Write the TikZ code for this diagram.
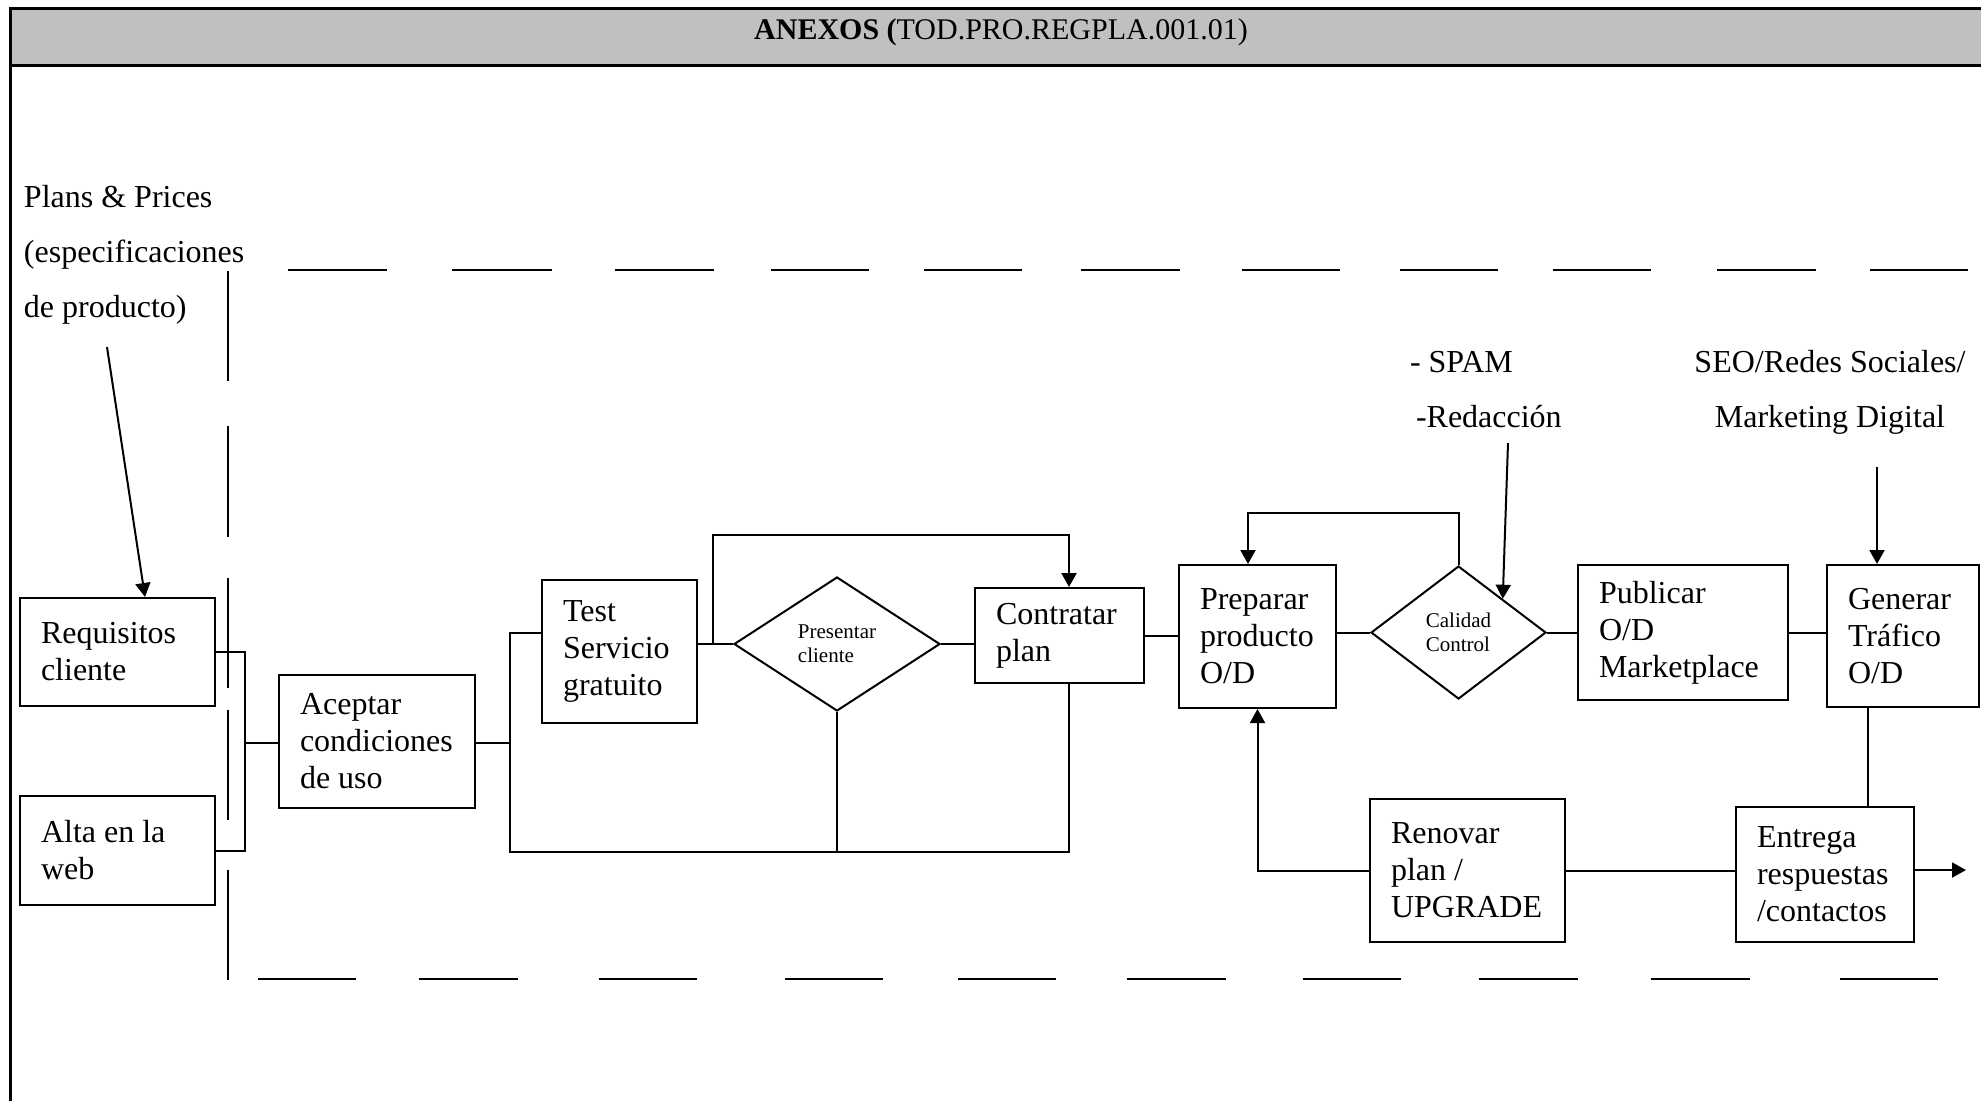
\documentclass[tikz,border=0pt]{standalone}
\usepackage{fontspec}
\setmainfont{Liberation Serif}
\usetikzlibrary{arrows.meta,shapes.geometric,calc}
\definecolor{hdr}{RGB}{192,192,192}
\begin{document}
\begin{tikzpicture}[x=0.5pt,y=-0.5pt,
  line width=1pt,
  every node/.style={font=\fontsize{16pt}{18.5pt}\selectfont},
  box/.style={draw, rectangle, inner xsep=10.5pt, inner ysep=0pt, align=flush left, anchor=center},
  dmd/.style={draw, diamond, inner sep=0pt, align=left,
    font=\fontsize{10.5pt}{12pt}\selectfont},
  arr/.style={-{Triangle[length=7pt,width=7.5pt]}},
  frame/.style={line width=1.5pt},
  wide/.style={font=\fontsize{16pt}{27.5pt}\selectfont, inner sep=0pt}
]
\useasboundingbox (0,0) rectangle (1981,1100);
\clip (0,0) rectangle (1981,1100);

% header band and outer frame
\fill[hdr] (10,8.5) rectangle (1995,65.5);
\draw[frame] (1995,8.5) -- (10,8.5) -- (10,1105);
\draw[frame] (10,65.5) -- (1995,65.5);
\node[font=\fontsize{15pt}{17pt}\selectfont] (ttl) at (1001,32)
  {\textbf{ANEXOS (}TOD.PRO.REGPLA.001.01)};

% lane boundaries (long dashes)
\foreach \a/\b in {288/387,452/552,615/714,771/869,924/1022,1081/1180,
                   1242/1340,1400/1498,1553/1651,1717/1816,1870/1968}
  \draw (\a,270) -- (\b,270);
\foreach \a/\b in {258/356,419/518,599/697,785/883,958/1056,1127/1226,
                   1303/1401,1479/1578,1651/1750,1840/1938}
  \draw (\a,979) -- (\b,979);
\foreach \a/\b in {271/381,426/537,578/688,710/820,870/980}
  \draw (228,\a) -- (228,\b);

% free texts
\node[wide, anchor=west, align=left] (plans) at (23,255)
  {Plans \& Prices\\(especificaciones\\de producto)};
\node[wide, anchor=west, align=left] (spam) at (1409,389.5)
  {- SPAM\\\hspace*{3pt}-Redacción};
\node[wide, align=center] (seo) at (1830,392)
  {SEO/Redes Sociales/\\Marketing Digital};

% process boxes
\node[box, text width=76.5pt, minimum height=54pt]   (req)   at (117.5,652)   {Requisitos\\cliente};
\node[box, text width=76.5pt, minimum height=54.5pt] (alta)  at (117.5,850.5) {Alta en la\\web};
\node[box, text width=77pt,   minimum height=66.5pt] (acep)  at (377,741.5)   {Aceptar\\condiciones\\de uso};
\node[box, text width=56.5pt, minimum height=71.5pt] (test)  at (619.5,651.5) {Test\\Servicio\\gratuito};
\node[box, text width=63.5pt, minimum height=47.5pt] (contr) at (1059.5,635.5){Contratar\\plan};
\node[box, text width=57.5pt, minimum height=71.5pt] (prep)  at (1257.5,636.5){Preparar\\producto\\O/D};
\node[box, text width=84pt,   minimum height=67.5pt] (pub)   at (1683,632.5)  {Publicar\\O/D\\Marketplace};
\node[box, text width=55pt,   minimum height=71pt]   (gen)   at (1903,636)    {Generar\\Tráfico\\O/D};
\node[box, text width=68pt,   minimum height=67.5pt] (ent)   at (1825,874.5)  {Entrega\\respuestas\\/contactos};
\node[box, text width=76.5pt, minimum height=71.5pt] (ren)   at (1467.5,870.5){Renovar\\plan /\\UPGRADE};

% decisions
\node[dmd, minimum width=103pt, minimum height=67pt]  (pres) at (837,644)     {Presentar\\cliente};
\node[dmd, minimum width=87.5pt, minimum height=66.5pt] (cal) at (1458.5,632.5) {Calidad\\Control};

% helper points for the orthogonal connectors
\coordinate (plansTail) at (107,347);
\coordinate (jL)  at (245,743);
\coordinate (jR)  at (510,743);
\coordinate (jRt) at (510,633);
\coordinate (jRb) at (510,852);
\coordinate (cx)  at (1069,0);
\coordinate (lpA) at (713,535);
\coordinate (qA)  at (1248,513);
\coordinate (redTail) at (1508,443);
\coordinate (seoTail) at (1877,467);
\coordinate (gx)  at (1868,0);
\coordinate (outTip) at (1966,870);

% connectors
\draw[arr] (plansTail) -- ([xshift=13.75pt]req.north);
\draw (req.east) -| (jL) |- (alta.east);
\draw (jL) -- (jL -| acep.west);
\draw (acep.east |- jR) -- (jR);
\draw (jRt -| test.west) -- (jRt) -- (jRb) -- (jRb -| cx) -- (contr.south -| cx);
\draw (pres.south) -- (pres.south |- jRb);
\draw (test.east |- pres.west) -- (pres.west);
\draw[arr] (lpA |- pres.west) -- (lpA) -| (contr.north -| cx);
\draw (pres.east) -- (pres.east -| contr.west);
\draw (contr.east) -- (contr.east -| prep.west);
\draw (prep.east |- cal.west) -- (cal.west);
\draw (cal.east) -- (cal.east -| pub.west);
\draw (pub.east) -- (pub.east -| gen.west);
\draw[arr] (cal.north) |- (qA) -- (qA |- prep.north);
\draw[arr] (redTail) -- (cal.north east);
\draw[arr] (seoTail) -- (seoTail |- gen.north);
\draw (gen.south -| gx) -- (ent.north -| gx);
\draw (ren.east) -- (ren.east -| ent.west);
\draw[arr] (outTip -| ent.east) -- (outTip);
\draw[arr] (ren.west) -| (prep.south);
\end{tikzpicture}
\end{document}
